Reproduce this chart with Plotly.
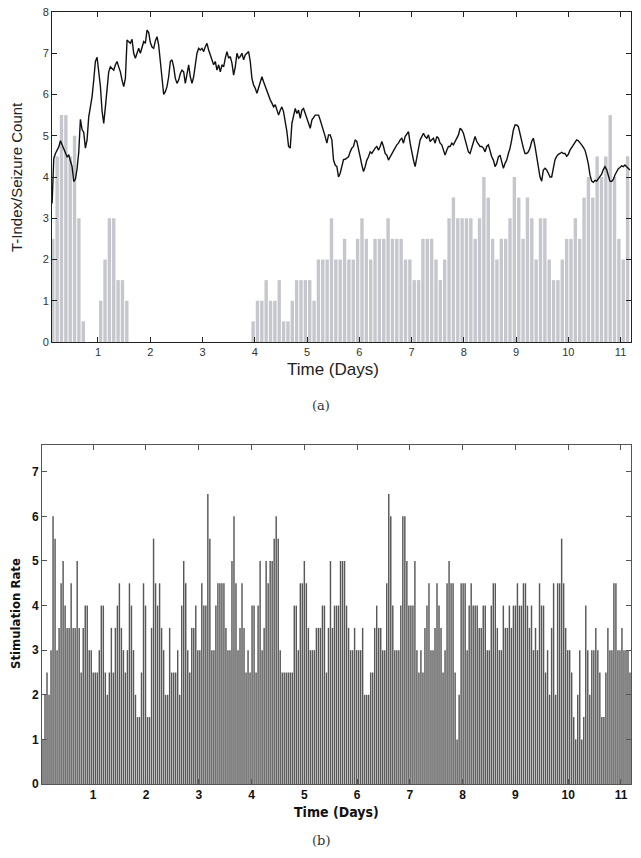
import numpy as np
import plotly.graph_objects as go

# ---------------- DATA ----------------
# (a) seizure count per 2-hour bin (first bin centred at day 0.135)
SEIZURE_FIRST_BIN_DAY = 0.135
SEIZURE_BIN_DAYS = 1.0 / 12.0
seizure_counts = (
    [2.5, 4.5, 5.5, 5.5, 4.5, 5, 3, 0.5, 0, 0, 0, 1, 2, 3, 3, 1.5, 1.5, 1]
    + [0] * 28
    + [0.5, 1, 1, 1.5, 1, 1, 1.5, 0.5, 0.5, 1, 1.5, 1.5, 1.5, 1.5, 1, 2, 2, 2]
    + [3, 2, 2, 2.5, 2, 2, 2.5, 3, 2.5, 2, 2.5, 2.5, 2.5, 3, 2.5, 2.5, 2.5, 2, 2,
       1.5, 1.5, 2.5, 2.5, 2.5, 2, 1.5, 2, 3, 3.5, 3, 3, 3, 3, 2.5, 3, 4, 3.5, 2.5,
       2, 2.5, 2.5, 3, 4, 3.5, 2.5, 3.5, 3, 2, 3, 3, 2, 1.5, 1.5, 2, 2.5, 2.5, 3,
       2.5, 3.5, 4, 3.5, 4.5, 4, 4.5, 5.5, 4, 2.5, 2, 4.5]
)

# (a) T-index, sampled every ~45.9 minutes starting at day 0.122
T_INDEX_START_DAY = 0.122
T_INDEX_STEP_DAYS = 0.031867
t_index = [
    3.36, 4.45, 4.57, 4.65, 4.73, 4.88, 4.78, 4.68, 4.6, 4.49, 4.53, 4.41, 4.25, 3.89, 3.95, 4.2,
    4.6, 5.4, 5.15, 5.08, 4.7, 4.9, 5.46, 5.7, 5.95, 6.35, 6.8, 6.9, 6.6, 6.2, 5.6, 5.3,
    5.7, 6.19, 6.55, 6.67, 6.63, 6.59, 6.72, 6.8, 6.67, 6.55, 6.35, 6.19, 6.39, 7.32, 7.28, 7.24,
    7.34, 7.0, 6.88, 7.0, 7.12, 7.0, 7.16, 7.28, 7.24, 7.56, 7.5, 7.26, 7.15, 7.12, 7.3, 7.4,
    7.2, 6.75, 6.45, 6.0, 6.07, 6.19, 6.43, 6.8, 6.84, 6.67, 6.39, 6.27, 6.35, 6.51, 6.59, 6.55,
    6.27, 6.55, 6.72, 6.43, 6.27, 6.43, 6.67, 7.0, 7.12, 7.08, 7.12, 7.04, 7.16, 7.24, 7.08, 6.96,
    6.88, 6.72, 6.8, 6.59, 6.72, 6.55, 6.72, 6.67, 6.88, 7.04, 6.88, 6.92, 6.76, 6.47, 6.67, 7.0,
    6.88, 6.92, 7.0, 6.84, 6.96, 7.0, 7.04, 6.8, 6.39, 6.23, 6.15, 6.03, 6.15, 6.31, 6.43, 6.31,
    6.19, 6.11, 5.95, 5.87, 5.79, 5.7, 5.75, 5.62, 5.5, 5.62, 5.7, 5.58, 5.38, 5.1, 4.74, 4.7,
    5.3, 5.5, 5.66, 5.54, 5.62, 5.42, 5.62, 5.66, 5.54, 5.46, 5.34, 5.18, 5.38, 5.46, 5.5, 5.5,
    5.5, 5.38, 5.26, 5.14, 4.98, 4.82, 5.02, 5.02, 4.9, 4.41, 4.29, 4.25, 4.0, 4.09,
    4.3, 4.42, 4.43, 4.45, 4.49, 4.61, 4.7, 4.74, 4.9, 4.86, 4.7, 4.49, 4.29, 4.13, 4.25, 4.41,
    4.49, 4.61, 4.57, 4.65, 4.7, 4.74, 4.65, 4.74, 4.86, 4.74, 4.57, 4.53, 4.41, 4.49, 4.57, 4.65,
    4.7, 4.78, 4.82, 4.9, 4.94, 4.82, 4.98, 5.06, 5.1, 4.82, 4.57, 4.41, 4.25, 4.49, 4.74, 4.9,
    4.98, 5.06, 4.98, 4.94, 5.02, 4.86, 4.9, 4.94, 4.82, 4.98, 4.94, 4.82, 4.78, 4.65, 4.53, 4.65,
    4.74, 4.74, 4.82, 4.78, 4.86, 4.9, 5.02, 5.18, 5.14, 5.06, 4.9, 4.74, 4.61, 4.57, 4.7, 4.86,
    4.98, 4.86, 4.78, 4.74, 4.74, 4.7, 4.61, 4.74, 4.78, 4.61, 4.49, 4.41, 4.25, 4.33, 4.49, 4.53,
    4.33, 4.21, 4.33, 4.41, 4.57, 4.7, 4.9, 5.14, 5.26, 5.26, 5.22, 5.02, 4.86, 4.7, 4.57, 4.57,
    4.61, 4.7, 4.86, 4.94, 4.74, 4.49, 4.29, 4.0, 3.9, 4.17, 4.21, 4.17, 4.09, 4.0, 4.0, 4.25,
    4.42, 4.5, 4.55, 4.57, 4.6, 4.57, 4.57, 4.5, 4.55, 4.65, 4.72, 4.76, 4.83, 4.9, 4.88, 4.84,
    4.78, 4.72, 4.65, 4.5, 4.32, 4.05, 3.9, 3.87, 3.92, 3.9, 3.95, 4.0, 4.07, 4.18, 4.25, 4.18,
    4.0, 3.9, 3.89, 3.94, 4.05, 4.12, 4.2, 4.23, 4.27, 4.25, 4.29, 4.25, 4.21, 4.17,
]

# (b) stimulation rate per bin, bins spanning day 0.03 .. 11.19
STIM_START_DAY = 0.03
STIM_END_DAY = 11.19
stim_rate = [
    1, 2, 2.5, 2, 3, 6, 5.5, 3, 3.5, 4.5, 5, 4, 3.5, 3.5, 4.5, 3.5, 3.5, 5, 3.5, 2.5,
    3.5, 4, 4, 3, 3, 2.5, 2.5, 2.5, 3, 4, 4, 2.5, 2, 2.5, 3.5, 2.5, 3.5, 4, 4.5, 3.5,
    3, 2.5, 3, 4.5, 4, 3, 2, 1.5, 1.5, 2.5, 4.5, 4, 1.5, 1.5, 3.5, 5.5, 4.5, 4, 4.5, 3.5,
    3, 2, 2, 3.5, 2.5, 2.5, 2.5, 3, 2, 4, 5, 4.5, 3,
    2.5, 3.5, 3.5, 4, 3, 3, 4.5, 4, 4, 6.5, 5.5, 3, 3, 4, 4.5, 4.5, 4.5, 4.5, 3.5, 3,
    3, 5, 6, 4.5, 3, 3.5, 4.5, 3.5, 2.5, 3, 2.5, 4, 4, 2.5, 4, 5, 3, 3.5, 5, 4.5,
    5, 5, 5.5, 6, 5.5, 3, 2.5, 2.5, 2.5, 2.5, 2.5, 2.5, 4, 4, 3, 4.5, 4.5, 5, 4.5, 3.5,
    3, 3, 3, 3.5, 3.5, 3.5, 4, 4, 2.5, 3.5, 5, 3.5, 4, 4,
    4, 5, 5, 5, 4, 3.5, 3, 3, 3.5, 3, 3, 3, 3.5, 2, 2, 2, 2.5, 2.5, 3.5, 4,
    3.5, 3.5, 3, 3, 4.5, 6.5, 6, 4, 3, 3, 3, 4, 6, 6, 5, 4, 4, 4, 5, 3,
    2.5, 3, 2.5, 3.5, 4, 4.5, 3, 3, 3.5, 4.5, 4, 3.5, 2.5, 3, 4.5, 5, 4.5, 4.5, 2.5, 1,
    2, 4.5, 4.5, 4.5, 3, 4, 4.5, 4, 4, 4, 3.5, 3.5, 4, 4,
    3, 3, 4, 4.5, 4.5, 3.5, 3, 3, 4, 3.5, 3.5, 4, 3.5, 4, 4, 4.5, 4, 4, 4.5, 4.5,
    4, 3.5, 4, 3, 3.5, 3, 4.5, 4, 4, 2.5, 3, 2, 3.5, 4.5, 2, 4.5, 4.5, 5.5, 4.5, 3.5,
    3, 3, 2.5, 1.5, 1, 2, 3, 1, 1.5, 4, 3, 2, 3, 3, 3.5, 3, 2.5, 1.5, 1.5, 2.5,
    3.5, 3, 3, 4.5, 4.5, 3, 3, 3.5, 3, 3, 3, 2.5,
]

top_x_ticks = list(range(1, 12))
top_y_ticks = list(range(0, 9))
bot_x_ticks = list(range(1, 12))
bot_y_ticks = list(range(0, 8))

# ---------------- DERIVED ----------------
seizure_days = SEIZURE_FIRST_BIN_DAY + SEIZURE_BIN_DAYS * np.arange(len(seizure_counts))
t_index_days = T_INDEX_START_DAY + T_INDEX_STEP_DAYS * np.arange(len(t_index))
stim_w = (STIM_END_DAY - STIM_START_DAY) / len(stim_rate)
stim_days = STIM_START_DAY + stim_w * (np.arange(len(stim_rate)) + 0.5)

W, H = 641, 858
def px(x):
    return x / W
def py(y):
    return 1 - y / H

fig = go.Figure()
fig.add_trace(go.Bar(x=seizure_days, y=seizure_counts, width=SEIZURE_BIN_DAYS * 0.78,
                     marker=dict(color="#c5c7cd", line=dict(width=0)),
                     xaxis="x", yaxis="y", showlegend=False))
fig.add_trace(go.Scatter(x=t_index_days, y=t_index, mode="lines",
                         line=dict(color="#111111", width=1.4),
                         xaxis="x", yaxis="y", showlegend=False))
fig.add_trace(go.Bar(x=stim_days, y=stim_rate, width=stim_w * 0.72,
                     marker=dict(color="#585858", line=dict(width=0)),
                     xaxis="x2", yaxis="y2", showlegend=False))

top_font = dict(family="Liberation Sans, Arial, sans-serif", size=11, color="#333333")
bot_font = dict(family="Liberation Sans, Arial, sans-serif", size=12, color="#111111")

common = dict(showgrid=False, zeroline=False, automargin=False, ticks="inside",
              ticklen=5, showline=True, linewidth=1, mirror="ticks")

def label(text, x, y, font, angle=0):
    return dict(text=text, x=px(x), y=py(y), xref="paper", yref="paper",
                xanchor="center", yanchor="middle", showarrow=False,
                textangle=angle, font=font)

sans = "Liberation Sans, Arial, sans-serif"
narrow = "Liberation Sans Narrow, DejaVu Sans Condensed, Arial, sans-serif"
serif = "DejaVu Serif, Liberation Serif, serif"

fig.update_layout(
    template="none",
    width=W, height=H,
    margin=dict(l=0, r=0, t=0, b=0, autoexpand=False),
    paper_bgcolor="white", plot_bgcolor="white",
    bargap=0,
    xaxis=dict(domain=[px(52), px(631)], range=[0.12, 11.2], anchor="y",
               tickvals=top_x_ticks, tickcolor="#222", linecolor="#222",
               tickfont=top_font, **common),
    yaxis=dict(domain=[py(342), py(12)], range=[0, 8], anchor="x",
               tickvals=top_y_ticks, tickcolor="#222", linecolor="#222",
               tickfont=top_font, **common),
    xaxis2=dict(domain=[px(42), px(631)], range=[STIM_START_DAY, STIM_END_DAY], anchor="y2",
                tickvals=bot_x_ticks, ticktext=[f"<b>{v}</b>" for v in bot_x_ticks],
                tickcolor="#555", linecolor="#555", tickfont=bot_font, **common),
    yaxis2=dict(domain=[py(784), py(445)], range=[0, 7.6], anchor="x2",
                tickvals=bot_y_ticks, ticktext=[f"<b>{v}</b>" for v in bot_y_ticks],
                tickcolor="#555", linecolor="#555", tickfont=bot_font, **common),
    annotations=[
        label("Time (Days)", 333, 370, dict(family=sans, size=17, color="#222")),
        label("T-Index/Seizure Count", 17, 177, dict(family=sans, size=15, color="#222"), -90),
        label("(a)", 321, 405, dict(family=serif, size=13, color="#333")),
        label("<b>Time (Days)</b>", 336, 812, dict(family=narrow, size=14, color="#111")),
        label("<b>Stimulation Rate</b>", 15, 614, dict(family=narrow, size=13, color="#111"), -90),
        label("(b)", 321, 840, dict(family=serif, size=13, color="#333")),
    ],
)

post = (
    "document.body.style.margin='0px';document.body.style.overflow='hidden';"
    "document.querySelectorAll('.barlayer path').forEach(function(p){"
    "p.setAttribute('shape-rendering','geometricPrecision');"
    "p.style.shapeRendering='geometricPrecision';});"
)

fig.write_html("out.html",
               config={"displayModeBar": False, "staticPlot": True},
               post_script=post)
